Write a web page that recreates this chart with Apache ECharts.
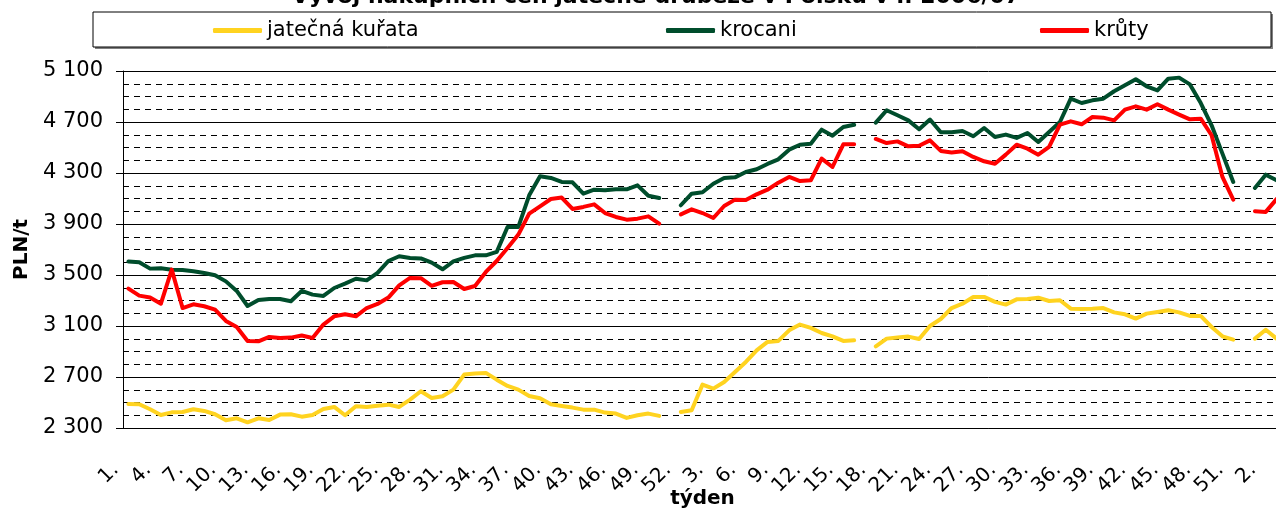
<!DOCTYPE html>
<html>
<head>
<meta charset="utf-8">
<title>Vývoj nákupních cen jatečné drůbeže</title>
<script src="https://cdn.jsdelivr.net/npm/echarts/dist/echarts.min.js"></script>
<style>
  html, body { margin: 0; padding: 0; background: #fff; }
  #chart { width: 1276px; height: 513px; }
</style>
</head>
<body>
<div id="chart"></div>
<script>
// týdny 2006, 2007 a začátek 2008
var weeks = ['1.', '2.', '3.', '4.', '5.', '6.', '7.', '8.', '9.', '10.', '11.', '12.', '13.', '14.', '15.', '16.', '17.', '18.', '19.', '20.', '21.', '22.', '23.', '24.', '25.', '26.', '27.', '28.', '29.', '30.', '31.', '32.', '33.', '34.', '35.', '36.', '37.', '38.', '39.', '40.', '41.', '42.', '43.', '44.', '45.', '46.', '47.', '48.', '49.', '50.', '51.', '52.',
  '1.', '2.', '3.', '4.', '5.', '6.', '7.', '8.', '9.', '10.', '11.', '12.', '13.', '14.', '15.', '16.', '17.', '18.', '19.', '20.', '21.', '22.', '23.', '24.', '25.', '26.', '27.', '28.', '29.', '30.', '31.', '32.', '33.', '34.', '35.', '36.', '37.', '38.', '39.', '40.', '41.', '42.', '43.', '44.', '45.', '46.', '47.', '48.', '49.', '50.', '51.', '52.',
  '1.', '2.', '3.'];

// PLN/t
var kurata = [2489, 2486, 2447, 2402, 2423, 2426, 2447, 2434, 2408, 2361, 2376, 2345, 2376, 2363, 2405, 2408, 2389, 2402, 2449, 2465,
  2400, 2470, 2465, 2475, 2483, 2465, 2523, 2588, 2535, 2549, 2601, 2719, 2727, 2732, 2679, 2630, 2601, 2551, 2533, 2486,
  2473, 2460, 2444, 2444, 2421, 2413, 2379, 2400, 2413, 2395, null, 2426, 2439, 2640, 2609, 2661, 2739, 2818, 2909, 2975,
  2983, 3066, 3111, 3085, 3045, 3019, 2983, 2988, null, 2941, 3001, 3009, 3017, 2998, 3100, 3155, 3241, 3275, 3328, 3328,
  3289, 3268, 3309, 3312, 3322, 3296, 3302, 3236, 3234, 3236, 3241, 3207, 3192, 3158, 3197, 3210, 3223, 3207, 3179, 3179,
  3092, 3019, 2993, null, 3001, 3071, 3001];

var krocani = [3605, 3600, 3550, 3553, 3542, 3540, 3530, 3516, 3498, 3450, 3375, 3257, 3304, 3312, 3312, 3294, 3375, 3346, 3336, 3398,
  3432, 3471, 3458, 3516, 3610, 3647, 3634, 3630, 3597, 3545, 3607, 3634, 3654, 3654, 3681, 3877, 3877, 4125, 4274, 4261,
  4230, 4227, 4138, 4169, 4164, 4172, 4172, 4203, 4122, 4104, null, 4047, 4138, 4149, 4216, 4261, 4266, 4308, 4329, 4371,
  4407, 4483, 4522, 4530, 4640, 4593, 4661, 4679, null, 4695, 4792, 4753, 4713, 4643, 4719, 4619, 4619, 4629, 4588, 4653,
  4582, 4601, 4575, 4614, 4543, 4622, 4700, 4883, 4849, 4870, 4883, 4941, 4988, 5035, 4980, 4948, 5040, 5048, 4995, 4849,
  4674, 4452, 4230, null, 4183, 4287, 4243];

var kruty = [3393, 3338, 3323, 3275, 3542, 3241, 3270, 3255, 3228, 3140, 3092, 2983, 2980, 3014, 3006, 3009, 3025, 3006, 3111, 3176,
  3192, 3176, 3241, 3273, 3323, 3419, 3477, 3475, 3415, 3443, 3445, 3390, 3414, 3524, 3610, 3712, 3817, 3981, 4039, 4096,
  4107, 4018, 4034, 4054, 3986, 3955, 3934, 3942, 3960, 3903, null, 3976, 4015, 3986, 3947, 4041, 4091, 4088, 4133, 4169,
  4224, 4269, 4237, 4243, 4413, 4347, 4525, 4525, null, 4567, 4535, 4548, 4509, 4514, 4556, 4473, 4460, 4470, 4426, 4392,
  4373, 4444, 4522, 4491, 4444, 4504, 4679, 4705, 4682, 4739, 4734, 4713, 4797, 4823, 4797, 4839, 4797, 4758, 4721, 4726,
  4596, 4269, 4091, null, 4000, 3995, 4095];

var yMin = 2300;
var yMax = 5100;

var font = 'DejaVu Sans, Verdana, sans-serif';
var chart = echarts.init(document.getElementById('chart'));

function lineSeries(name, color, data) {
  return {
    name: name,
    type: 'line',
    data: data,
    symbol: 'none',
    connectNulls: false,
    lineStyle: { color: color, width: 4, cap: 'round', join: 'round' },
    itemStyle: { color: color }
  };
}

function legendAt(name, left) {
  return {
    data: [name],
    left: left,
    top: 20,
    padding: 0,
    z: 10,
    icon: 'roundRect',
    itemWidth: 49,
    itemHeight: 5,
    textStyle: { fontFamily: font, fontSize: 21, color: '#000' }
  };
}

var option = {
  animation: false,
  backgroundColor: '#fff',
  title: {
    text: 'Vývoj nákupních cen jatečné drůbeže v Polsku v r. 2006/07',
    left: 651,
    textAlign: 'center',
    top: -19,
    textStyle: { fontFamily: font, fontSize: 22, fontWeight: 'bold', color: '#000' }
  },
  graphic: [
    { type: 'rect', z: 1, shape: { x: 95, y: 14, width: 1178, height: 35 }, style: { fill: '#808080' } },
    { type: 'rect', z: 2, shape: { x: 93, y: 12, width: 1178, height: 35 }, style: { fill: '#fff', stroke: '#000', lineWidth: 1 } }
  ],
  legend: [
    legendAt('jatečná kuřata', 213),
    legendAt('krocani', 666),
    legendAt('krůty', 1040)
  ],
  grid: {
    left: 123,
    top: 71,
    width: 1159,
    height: 357,
    containLabel: false,
    outerBoundsMode: 'none'
  },
  xAxis: {
    type: 'category',
    data: weeks,
    boundaryGap: true,
    name: 'týden',
    nameLocation: 'middle',
    nameGap: 61,
    nameMoveOverlap: false,
    nameTextStyle: { fontFamily: font, fontSize: 20, fontWeight: 'bold', color: '#000' },
    axisLine: { lineStyle: { color: '#000', width: 1 } },
    axisTick: { interval: 0, length: 6, lineStyle: { color: '#000' } },
    axisLabel: {
      interval: 2,
      rotate: 45,
      margin: 26,
      padding: [0, 18, 0, 0],
      fontFamily: font,
      fontSize: 20,
      color: '#000'
    },
    splitLine: { show: false }
  },
  yAxis: [{
    // jemná mřížka po 100
    type: 'value',
    min: yMin,
    max: yMax,
    interval: 100,
    name: 'PLN/t',
    nameLocation: 'middle',
    nameGap: 91,
    nameRotate: 90,
    nameMoveOverlap: false,
    nameTextStyle: { fontFamily: font, fontSize: 20, fontWeight: 'bold', color: '#000' },
    axisLine: { show: true, lineStyle: { color: '#000', width: 1 } },
    axisTick: { show: false },
    axisLabel: {
      margin: 20,
      fontFamily: font,
      fontSize: 21,
      color: '#000',
      formatter: function (v) {
        if ((v - yMin) % 400 !== 0) return '';
        return String(v).replace(/\B(?=(\d{3})+(?!\d))/g, ' ');
      }
    },
    splitLine: { show: true, lineStyle: { color: '#000', width: 1, type: [6, 5] } }
  }, {
    // hlavní mřížka po 400 (jen čáry)
    type: 'value',
    min: 0,
    max: yMax - yMin,
    interval: 400,
    position: 'left',
    axisLine: { show: false },
    axisTick: { show: true, inside: false, length: 7, lineStyle: { color: '#000' } },
    axisLabel: { show: false },
    splitLine: { show: true, lineStyle: { color: '#000', width: 1, type: 'solid' } }
  }],
  series: [
    lineSeries('jatečná kuřata', '#FFD320', kurata),
    lineSeries('krocani', '#004D2C', krocani),
    lineSeries('krůty', '#FF0000', kruty)
  ]
};

chart.setOption(option);
</script>
</body>
</html>
